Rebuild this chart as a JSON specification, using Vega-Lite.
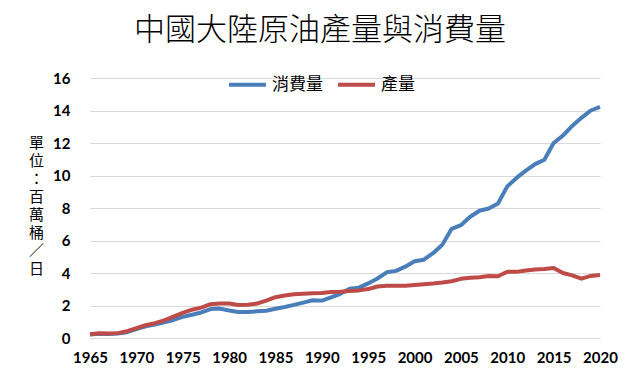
{
  "$schema": "https://vega.github.io/schema/vega-lite/v6.json",
  "autosize": "none",
  "width": 510,
  "height": 260,
  "padding": {"left": 90, "top": 78, "right": 40, "bottom": 48},
  "background": "white",
  "title": {
    "text": "中國大陸原油產量與消費量",
    "font": "Noto Sans CJK TC",
    "fontSize": 31,
    "fontWeight": 300,
    "color": "#000000",
    "anchor": "middle",
    "dx": -25,
    "offset": 17
  },
  "data": {
    "values": [
      {"year": 1965, "消費量": 0.22, "產量": 0.23},
      {"year": 1966, "消費量": 0.26, "產量": 0.29},
      {"year": 1967, "消費量": 0.25, "產量": 0.28},
      {"year": 1968, "消費量": 0.27, "產量": 0.30},
      {"year": 1969, "消費量": 0.36, "產量": 0.42},
      {"year": 1970, "消費量": 0.55, "產量": 0.60},
      {"year": 1971, "消費量": 0.72, "產量": 0.79},
      {"year": 1972, "消費量": 0.83, "產量": 0.91},
      {"year": 1973, "消費量": 0.97, "產量": 1.09},
      {"year": 1974, "消費量": 1.11, "產量": 1.32},
      {"year": 1975, "消費量": 1.30, "產量": 1.55},
      {"year": 1976, "消費量": 1.43, "產量": 1.74},
      {"year": 1977, "消費量": 1.57, "產量": 1.87},
      {"year": 1978, "消費量": 1.78, "產量": 2.08},
      {"year": 1979, "消費量": 1.81, "產量": 2.12},
      {"year": 1980, "消費量": 1.69, "產量": 2.12},
      {"year": 1981, "消費量": 1.60, "產量": 2.03},
      {"year": 1982, "消費量": 1.60, "產量": 2.05},
      {"year": 1983, "消費量": 1.64, "產量": 2.12},
      {"year": 1984, "消費量": 1.68, "產量": 2.30},
      {"year": 1985, "消費量": 1.80, "產量": 2.51},
      {"year": 1986, "消費量": 1.91, "產量": 2.62},
      {"year": 1987, "消費量": 2.04, "產量": 2.69},
      {"year": 1988, "消費量": 2.18, "產量": 2.73},
      {"year": 1989, "消費量": 2.32, "產量": 2.76},
      {"year": 1990, "消費量": 2.30, "產量": 2.77},
      {"year": 1991, "消費量": 2.50, "產量": 2.83},
      {"year": 1992, "消費量": 2.72, "產量": 2.84},
      {"year": 1993, "消費量": 3.03, "產量": 2.89},
      {"year": 1994, "消費量": 3.10, "產量": 2.93},
      {"year": 1995, "消費量": 3.36, "產量": 3.01},
      {"year": 1996, "消費量": 3.66, "產量": 3.17},
      {"year": 1997, "消費量": 4.04, "產量": 3.22},
      {"year": 1998, "消費量": 4.13, "產量": 3.22},
      {"year": 1999, "消費量": 4.39, "產量": 3.22},
      {"year": 2000, "消費量": 4.72, "產量": 3.26},
      {"year": 2001, "消費量": 4.82, "產量": 3.31},
      {"year": 2002, "消費量": 5.22, "產量": 3.35},
      {"year": 2003, "消費量": 5.74, "產量": 3.41},
      {"year": 2004, "消費量": 6.72, "產量": 3.49},
      {"year": 2005, "消費量": 6.94, "產量": 3.64},
      {"year": 2006, "消費量": 7.46, "產量": 3.71},
      {"year": 2007, "消費量": 7.83, "產量": 3.74},
      {"year": 2008, "消費量": 7.97, "產量": 3.81},
      {"year": 2009, "消費量": 8.28, "產量": 3.80},
      {"year": 2010, "消費量": 9.33, "產量": 4.08},
      {"year": 2011, "消費量": 9.85, "產量": 4.07},
      {"year": 2012, "消費量": 10.30, "產量": 4.16},
      {"year": 2013, "消費量": 10.70, "產量": 4.22},
      {"year": 2014, "消費量": 10.97, "產量": 4.25},
      {"year": 2015, "消費量": 12.00, "產量": 4.31},
      {"year": 2016, "消費量": 12.45, "產量": 4.00},
      {"year": 2017, "消費量": 13.05, "產量": 3.85},
      {"year": 2018, "消費量": 13.55, "產量": 3.65},
      {"year": 2019, "消費量": 14.00, "產量": 3.82},
      {"year": 2020, "消費量": 14.22, "產量": 3.88}
    ]
  },
  "transform": [
    {"fold": ["消費量", "產量"], "as": ["series", "value"]}
  ],
  "mark": {"type": "line", "strokeWidth": 4, "strokeJoin": "round", "strokeCap": "butt"},
  "encoding": {
    "x": {
      "field": "year",
      "type": "quantitative",
      "scale": {"domain": [1965, 2020], "nice": false, "zero": false},
      "axis": {
        "title": null,
        "values": [1965, 1970, 1975, 1980, 1985, 1990, 1995, 2000, 2005, 2010, 2015, 2020],
        "format": "d",
        "grid": false,
        "ticks": false,
        "domainColor": "#d9d9d9",
        "domainWidth": 1,
        "labelFont": "Lato",
        "labelFontWeight": "bold",
        "labelFontSize": 15,
        "labelColor": "#000000",
        "labelPadding": 12,
        "labelFlush": false
      }
    },
    "y": {
      "field": "value",
      "type": "quantitative",
      "scale": {"domain": [0, 16], "nice": false},
      "axis": {
        "title": ["單", "位", "：", "百", "萬", "桶", "／", "日"],
        "titleAngle": 0,
        "titleFont": "Noto Sans CJK TC",
        "titleFontSize": 15,
        "titleFontWeight": "normal",
        "titleColor": "#000000",
        "titleLineHeight": 18,
        "titleAlign": "center",
        "titleBaseline": "top",
        "titleX": -54,
        "titleY": 57,
        "values": [0, 2, 4, 6, 8, 10, 12, 14, 16],
        "domain": false,
        "ticks": false,
        "grid": true,
        "gridColor": "#d9d9d9",
        "gridWidth": 1,
        "labelFont": "Lato",
        "labelFontWeight": "bold",
        "labelFontSize": 15,
        "labelColor": "#000000",
        "labelPadding": 20
      }
    },
    "color": {
      "field": "series",
      "type": "nominal",
      "scale": {"domain": ["消費量", "產量"], "range": ["#4A7EBB", "#BE4B48"]},
      "legend": {
        "title": null,
        "orient": "none",
        "direction": "horizontal",
        "legendX": 137,
        "legendY": -14,
        "symbolType": "stroke",
        "symbolSize": 1369,
        "symbolStrokeWidth": 4,
        "labelFont": "Noto Sans CJK TC",
        "labelFontSize": 17,
        "labelColor": "#000000",
        "columnPadding": 7,
        "labelOffset": 4
      }
    }
  },
  "config": {
    "view": {"stroke": null}
  }
}
